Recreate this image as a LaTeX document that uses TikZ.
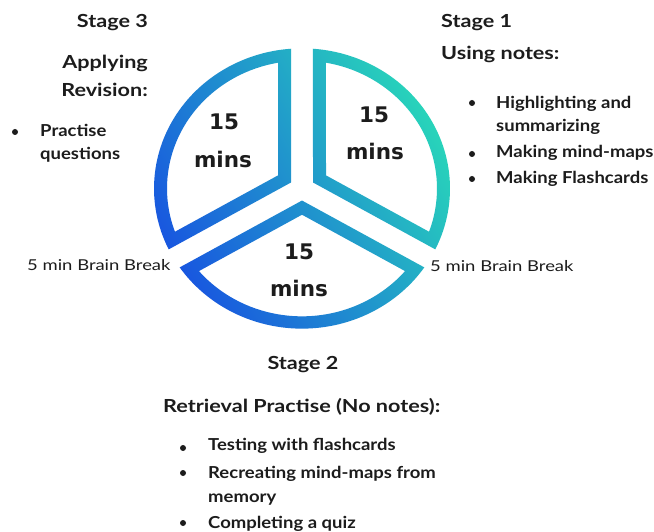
\documentclass[tikz,border=0pt]{standalone}
\usepackage{fontspec}
\usepackage{graphicx}
\setmainfont{Lato}
\newfontfamily\numfont{DejaVu Sans}
\newcommand\hwide[1]{\scalebox{1.2}[1]{#1}}
\newcommand\bwide[1]{\scalebox{1.12}[1]{#1}}
\newcommand\kwide[1]{\scalebox{1.23}[1]{#1}}
\definecolor{pieteal}{RGB}{40,212,186}
\definecolor{pieblue}{RGB}{24,84,224}
\definecolor{ink}{RGB}{28,28,28}
\begin{document}
\begin{tikzpicture}[x=1pt,y=1pt,
  head/.style={inner sep=0pt, text=ink, font=\fontsize{18}{21}\selectfont\bfseries},
  txt/.style={inner sep=0pt, text=ink, font=\fontsize{16.5}{20}\selectfont\bfseries},
  brk/.style={inner sep=0pt, text=ink, font=\fontsize{15}{18}\selectfont},
  mins/.style={inner sep=0pt, text=ink, font=\fontsize{21.5}{24}\selectfont\numfont\bfseries, anchor=base},
  bulletdot/.style={circle, fill=ink, inner sep=0pt, minimum size=6pt}]
\useasboundingbox (0,0) rectangle (654,531);
\fill[white] (0,0) rectangle (654,531);
% pie ring
\begin{scope}[shift={(302,342.5)}, yscale=0.947]
\shade[even odd rule, top color=pieteal, bottom color=pieblue, shading angle=-60]
  \foreach \p in {30,150,270} {
    (\p:12.70) -- ({\p+60-4.26}:148) arc[start angle={\p+60-4.26}, end angle={\p-60+4.26}, radius=148] -- cycle
    (\p:27.71) -- ({\p+60-10.24}:135) arc[start angle={\p+60-10.24}, end angle={\p-60+10.24}, radius=135] -- cycle
  };
\end{scope}
% 15 mins labels
\node[mins] (tl15) at (224,401) {15};
\node[mins] (tlm) at (223,363) {mins};
\node[mins] (tr15) at (374,408) {15};
\node[mins] (trm) at (375,371) {mins};
\node[mins] (bt15) at (299,271) {15};
\node[mins] (btm) at (299,234) {mins};
% breaks
\node[brk, anchor=base west] (brkL) at (27,260) {\kwide{5 min Brain Break}};
\node[brk, anchor=base west] (brkR) at (430,259) {\kwide{5 min Brain Break}};
% Stage 3
\node[head, anchor=base east] (s3) at (148,503) {\hwide{Stage 3}};
\node[head, anchor=base east] (s3a) at (148,462) {\hwide{Applying}};
\node[head, anchor=base east] (s3b) at (148,434) {\hwide{Revision:}};
\node[bulletdot] (s3d) at (15,399) {};
\node[txt, anchor=base west] (s3c1) at (40,394) {\bwide{Practise}};
\node[txt, anchor=base west] (s3c2) at (40,371) {\bwide{questions}};
% Stage 1
\node[head, anchor=base west] (s1) at (441,503) {\hwide{Stage 1}};
\node[head, anchor=base west] (s1a) at (441,471) {\hwide{Using notes:}};
\node[bulletdot] (s1d1) at (472,428) {};
\node[txt, anchor=base west] (s1b1) at (496,422) {\bwide{Highlighting and}};
\node[txt, anchor=base west] (s1b2) at (496,399) {\bwide{summarizing}};
\node[bulletdot] (s1d2) at (472,377) {};
\node[txt, anchor=base west] (s1c) at (496,373) {\bwide{Making mind-maps}};
\node[bulletdot] (s1d3) at (472,352) {};
\node[txt, anchor=base west] (s1e) at (496,347) {\bwide{Making Flashcards}};
% Stage 2
\node[head, anchor=base] (s2) at (303,161) {\hwide{Stage 2}};
\node[head, anchor=base west] (s2a) at (163,119) {\hwide{Retrieval Practise (No notes):}};
\node[bulletdot] (s2d1) at (183,83) {};
\node[txt, anchor=base west] (s2b) at (208,81) {\bwide{Testing with flashcards}};
\node[bulletdot] (s2d2) at (183,58) {};
\node[txt, anchor=base west] (s2c1) at (208,53) {\bwide{Recreating mind-maps from}};
\node[txt, anchor=base west] (s2c2) at (208,29) {\bwide{memory}};
\node[bulletdot] (s2d3) at (183,8) {};
\node[txt, anchor=base west] (s2e) at (208,3) {\bwide{Completing a quiz}};
\end{tikzpicture}
\end{document}
